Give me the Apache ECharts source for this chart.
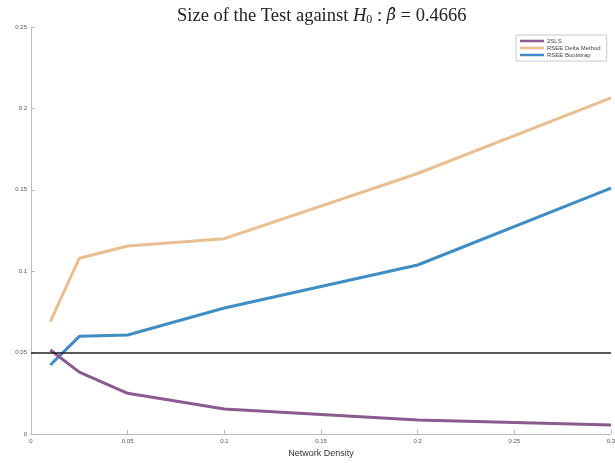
<!DOCTYPE html>
<html>
<head>
<meta charset="utf-8">
<script src="https://cdn.jsdelivr.net/npm/echarts@6/dist/echarts.min.js"></script>
<style>
  html, body { margin: 0; padding: 0; background: #fff; overflow: hidden; }
  #chart { width: 615px; height: 463px; }
</style>
</head>
<body>
<div id="chart"></div>
<script>
// Network density values at which the test size was evaluated
const density = [0.01, 0.025, 0.05, 0.1, 0.2, 0.3];

// Empirical rejection rates for each estimator
const tsls        = [0.0516, 0.038, 0.025, 0.0154, 0.0086, 0.0055];
const rseeDelta   = [0.069, 0.108, 0.1155, 0.120, 0.160, 0.2065];
const rseeBoot    = [0.0424, 0.060, 0.0608, 0.0774, 0.1038, 0.151];

// Nominal level of the test
const nominalLevel = 0.05;

// Axis ticks
const xTicks = [0, 0.05, 0.1, 0.15, 0.2, 0.25, 0.3];
const yTicks = [0, 0.05, 0.1, 0.15, 0.2, 0.25];

const pairs = ys => density.map((x, i) => [x, ys[i]]);

const chart = echarts.init(document.getElementById('chart'), null, { renderer: 'canvas' });

const tickFmt = v => String(Number(v.toFixed(2)));

const serif = 'Liberation Serif';

chart.setOption({
  animation: false,
  backgroundColor: '#ffffff',
  title: {
    text: '{n|Size of the Test against }{i|H}{s|0}{n| : }{b|β̂}{n| = 0.4666}',
    left: 172,
    top: 1,
    textStyle: {
      fontWeight: 'normal',
      rich: {
        n: { fontFamily: serif, fontWeight: 'normal', fontSize: 18.5, color: '#222' },
        i: { fontFamily: serif, fontWeight: 'normal', fontStyle: 'italic', fontSize: 18.5, color: '#222' },
        b: { fontFamily: 'DejaVu Serif', fontWeight: 'normal', fontStyle: 'italic', fontSize: 16, color: '#222' },
        s: { fontFamily: serif, fontWeight: 'normal', fontSize: 12, color: '#222', padding: [8, 0, 0, 0] }
      }
    }
  },
  legend: {
    orient: 'vertical',
    left: 516,
    top: 35,
    itemWidth: 24,
    itemHeight: 2.5,
    itemGap: 1,
    icon: 'rect',
    padding: [3, 6, 3, 4],
    borderColor: '#c8c8c8',
    borderWidth: 1,
    textStyle: { fontFamily: 'Liberation Sans', fontSize: 6, color: '#444', padding: [0, 0, 0, -2] },
    data: ['2SLS', 'RSEE Delta Method', 'RSEE Bootstrap']
  },
  grid: { left: 31, right: 4, top: 27, bottom: 29, containLabel: false, outerBoundsMode: 'none' },
  xAxis: {
    type: 'value',
    min: xTicks[0],
    max: xTicks[xTicks.length - 1],
    interval: 0.05,
    name: 'Network Density',
    nameLocation: 'middle',
    nameGap: 14,
    nameTextStyle: { fontFamily: 'Liberation Sans', fontSize: 9, color: '#333' },
    axisLine: { lineStyle: { color: '#bcbcbc', width: 1 } },
    axisTick: { inside: true, length: 4, lineStyle: { color: '#bcbcbc' } },
    axisLabel: { fontFamily: 'Liberation Sans', fontSize: 6, color: '#555', margin: 4, formatter: tickFmt },
    splitLine: { show: false }
  },
  yAxis: {
    type: 'value',
    min: yTicks[0],
    max: yTicks[yTicks.length - 1],
    interval: 0.05,
    axisLine: { show: true, lineStyle: { color: '#bcbcbc', width: 1 } },
    axisTick: { show: true, inside: true, length: 4, lineStyle: { color: '#bcbcbc' } },
    axisLabel: { fontFamily: 'Liberation Sans', fontSize: 6, color: '#555', margin: 4, formatter: tickFmt },
    splitLine: { show: false }
  },
  series: [
    {
      name: '2SLS',
      type: 'line',
      data: pairs(tsls),
      symbol: 'none',
      color: '#8b5a8e',
      lineStyle: { width: 3, color: '#8b5a8e' },
      z: 3
    },
    {
      name: 'RSEE Delta Method',
      type: 'line',
      data: pairs(rseeDelta),
      symbol: 'none',
      color: '#e9bf92',
      lineStyle: { width: 3, color: '#e9bf92' },
      z: 2
    },
    {
      name: 'RSEE Bootstrap',
      type: 'line',
      data: pairs(rseeBoot),
      symbol: 'none',
      color: '#3f8dc4',
      lineStyle: { width: 3, color: '#3f8dc4' },
      z: 2,
      markLine: {
        silent: true,
        symbol: 'none',
        label: { show: false },
        lineStyle: { color: '#222', width: 1.5, type: 'solid' },
        data: [{ yAxis: nominalLevel }],
        z: 4
      }
    }
  ]
});
</script>
</body>
</html>
